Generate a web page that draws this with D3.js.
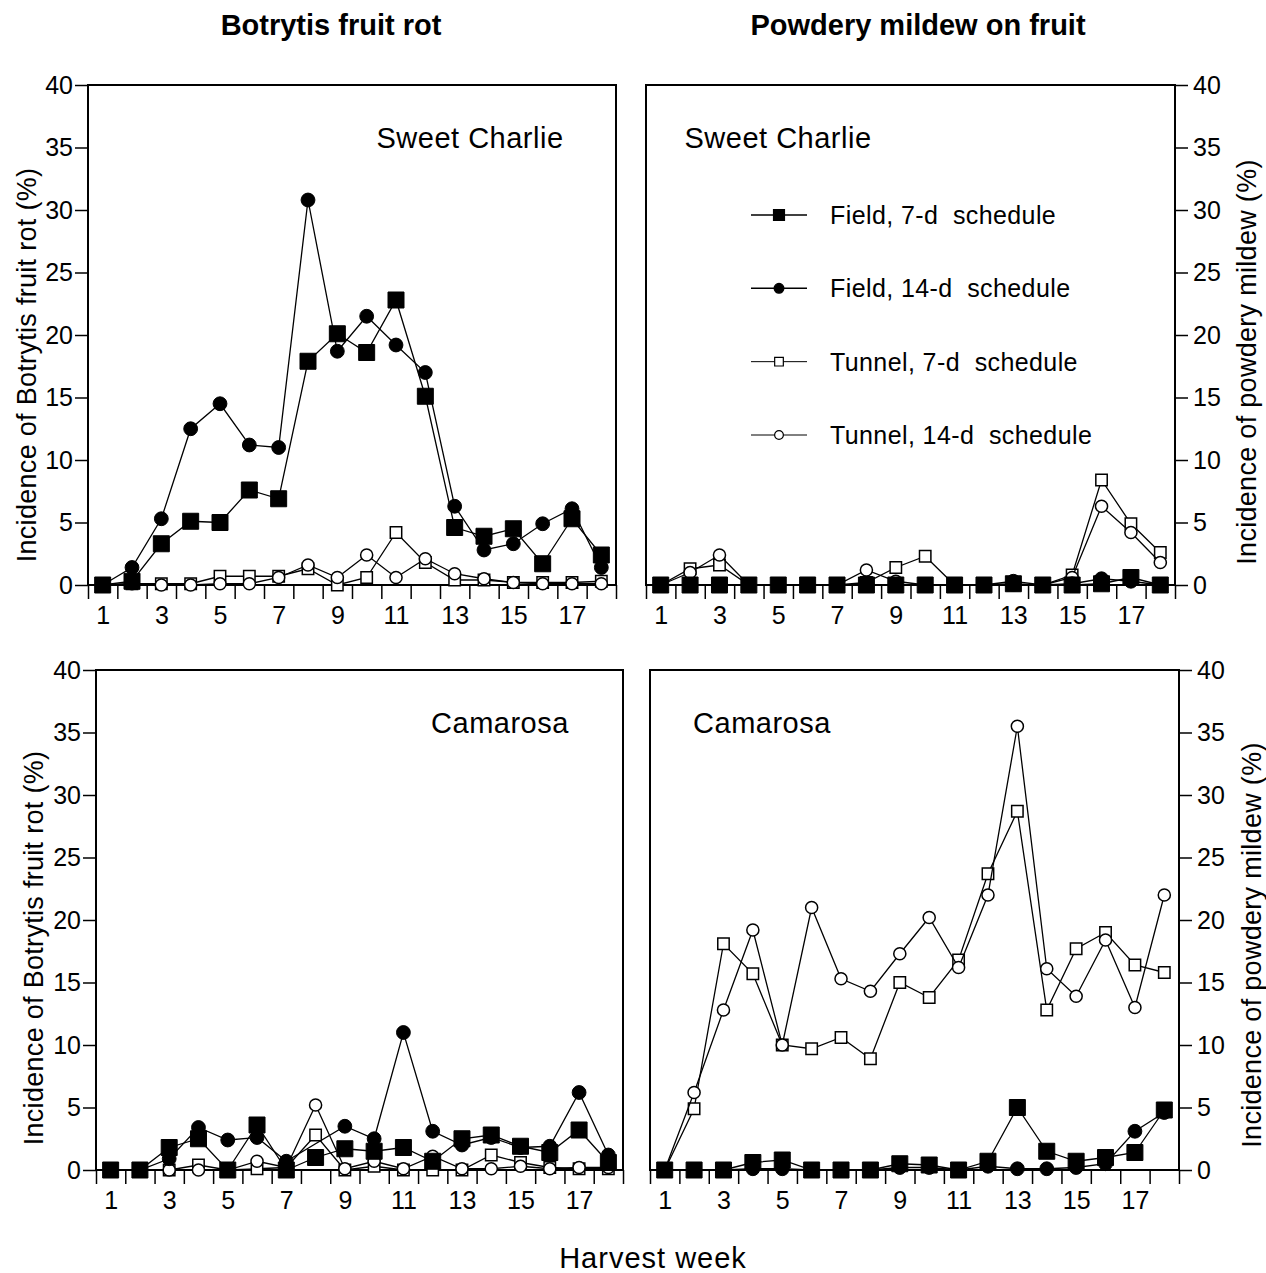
<!DOCTYPE html>
<html>
<head>
<meta charset="utf-8">
<script src="https://cdn.jsdelivr.net/npm/d3@7"></script>
<style>
  body { margin: 0; background: #fff; }
  svg text { font-family: "Liberation Sans", Arial, sans-serif; fill: #000; }
</style>
</head>
<body>
<svg id="chart"></svg>
<script>
const weeks = d3.range(1, 19);
const oddWeeks = d3.range(1, 18, 2);
const yTicks = d3.range(0, 41, 5);
const seriesNames = ["Field, 7-d  schedule", "Field, 14-d  schedule", "Tunnel, 7-d  schedule", "Tunnel, 14-d  schedule"];

// Botrytis fruit rot, Sweet Charlie
const scBotField7 = [0, 0.3, 3.3, 5.1, 5.0, 7.6, 6.9, 17.9, 20.1, 18.6, 22.8, 15.1, 4.6, 3.9, 4.5, 1.7, 5.3, 2.4];
const scBotField14 = [0, 1.4, 5.3, 12.5, 14.5, 11.2, 11.0, 30.8, 18.7, 21.5, 19.2, 17.0, 6.3, 2.8, 3.3, 4.9, 6.1, 1.4];
const scBotTunnel7 = [0, 0.1, 0.1, 0.1, 0.7, 0.7, 0.7, 1.3, 0, 0.6, 4.2, 1.8, 0.4, 0.4, 0.2, 0.2, 0.2, 0.3];
const scBotTunnel14 = [0, 0.1, 0, 0, 0.1, 0.1, 0.6, 1.6, 0.6, 2.4, 0.6, 2.1, 0.9, 0.5, 0.2, 0.1, 0.1, 0.1];

// Powdery mildew, Sweet Charlie
const scPmField7 = [0, 0, 0, 0, 0, 0, 0, 0, 0, 0, 0, 0, 0.1, 0, 0, 0.1, 0.6, 0];
const scPmField14 = [0, 0, 0, 0, 0, 0, 0, 0, 0, 0, 0, 0, 0.3, 0, 0.1, 0.5, 0.3, 0];
const scPmTunnel7 = [0, 1.3, 1.6, 0, 0, 0, 0, 0.2, 1.4, 2.3, 0, 0, 0, 0, 0.8, 8.4, 4.9, 2.6];
const scPmTunnel14 = [0, 1.0, 2.4, 0, 0, 0, 0, 1.2, 0.3, 0, 0, 0, 0, 0, 0.6, 6.3, 4.2, 1.8];

// Botrytis fruit rot, Camarosa
const camBotField7 = [0, 0, 1.8, 2.5, 0, 3.6, 0, 1.0, 1.7, 1.5, 1.8, 0.7, 2.5, 2.8, 1.9, 1.4, 3.2, 0.6];
const camBotField14 = [0, 0, 0.9, 3.4, 2.4, 2.6, 0.7, null, 3.5, 2.5, 11.0, 3.1, 2.0, 2.6, 1.8, 1.9, 6.2, 1.2];
const camBotTunnel7 = [0, 0, 0, 0.4, 0, 0.1, 0.2, 2.8, 0, 0.3, 0, 0, 0, 1.2, 0.6, 0.2, 0.1, 0.1];
const camBotTunnel14 = [0, 0, 0, 0, 0, 0.7, 0.2, 5.2, 0.1, 0.7, 0.1, 1.1, 0.1, 0.1, 0.3, 0.1, 0.2, 0.2];

// Powdery mildew, Camarosa
const camPmField7 = [0, 0, 0, 0.6, 0.8, 0, 0, 0, 0.5, 0.4, 0, 0.7, 5.0, 1.5, 0.7, 1.0, 1.4, 4.8];
const camPmField14 = [0, 0, 0, 0.1, 0.1, 0, 0, 0, 0.2, 0.2, 0, 0.3, 0.1, 0.1, 0.2, 0.5, 3.1, 4.6];
const camPmTunnel7 = [0, 4.9, 18.1, 15.7, 10.0, 9.7, 10.6, 8.9, 15.0, 13.8, 16.8, 23.7, 28.7, 12.8, 17.7, 19.0, 16.4, 15.8];
const camPmTunnel14 = [0, 6.2, 12.8, 19.2, 10.0, 21.0, 15.3, 14.3, 17.3, 20.2, 16.2, 22.0, 35.5, 16.1, 13.9, 18.4, 13.0, 22.0];

const width = 1266;
const height = 1273;

const svg = d3.select("#chart").attr("width", width).attr("height", height);

// marker styles, in series order
const styles = [
  { shape: d3.symbolSquare, size: 256, fill: "#000", sw: 1 },
  { shape: d3.symbolCircle, size: 150, fill: "#000", sw: 1 },
  { shape: d3.symbolSquare, size: 130, fill: "#fff", sw: 1.5 },
  { shape: d3.symbolCircle, size: 115, fill: "#fff", sw: 1.5 }
];

const panels = [
  { series: [scBotField7, scBotField14, scBotTunnel7, scBotTunnel14], left: 88, right: 616, top: 85, bottom: 585,
    side: "left", name: "Sweet Charlie", nx: 470, ny: 148 },
  { series: [scPmField7, scPmField14, scPmTunnel7, scPmTunnel14], left: 646, right: 1175, top: 85, bottom: 585,
    side: "right", name: "Sweet Charlie", nx: 778, ny: 148, legend: true },
  { series: [camBotField7, camBotField14, camBotTunnel7, camBotTunnel14], left: 96, right: 623, top: 670, bottom: 1170,
    side: "left", name: "Camarosa", nx: 500, ny: 733 },
  { series: [camPmField7, camPmField14, camPmTunnel7, camPmTunnel14], left: 650, right: 1179, top: 670, bottom: 1170,
    side: "right", name: "Camarosa", nx: 762, ny: 733 }
];

const drawOrder = [2, 3, 1, 0];

panels.forEach((p) => {
  const x = d3.scaleLinear().domain([0.5, 18.5]).range([p.left, p.right]);
  const y = d3.scaleLinear().domain([0, 40]).range([p.bottom, p.top]);
  const g = svg.append("g");

  // frame
  g.append("rect")
    .attr("x", p.left).attr("y", p.top)
    .attr("width", p.right - p.left).attr("height", p.bottom - p.top)
    .attr("fill", "none").attr("stroke", "#000").attr("stroke-width", 2);

  // y axis
  const yAxis = (p.side === "left" ? d3.axisLeft(y).tickPadding(2) : d3.axisRight(y).tickPadding(5))
    .tickValues(yTicks).tickSize(13);
  const ya = g.append("g")
    .attr("transform", `translate(${p.side === "left" ? p.left : p.right},0)`)
    .call(yAxis);
  ya.select(".domain").remove();
  ya.selectAll("line").attr("stroke-width", 1.5);
  ya.selectAll("text").attr("font-size", 25);

  // x axis ticks between weeks
  const xa = g.append("g").attr("transform", `translate(0,${p.bottom})`)
    .call(d3.axisBottom(x).tickValues(d3.range(0.5, 19, 1)).tickSize(14).tickFormat(""));
  xa.select(".domain").remove();
  xa.selectAll("line").attr("stroke-width", 1.5);

  const xl = g.append("g").attr("transform", `translate(0,${p.bottom})`)
    .call(d3.axisBottom(x).tickValues(oddWeeks).tickSize(0).tickPadding(21));
  xl.select(".domain").remove();
  xl.selectAll("text").attr("font-size", 25);

  // series
  drawOrder.forEach((si) => {
    const vals = p.series[si];
    const pts = weeks.map((w, i) => [w, vals[i]]).filter((d) => d[1] !== null);
    const line = d3.line().x((d) => x(d[0])).y((d) => y(d[1]));
    g.append("path").datum(pts)
      .attr("d", line).attr("fill", "none").attr("stroke", "#000").attr("stroke-width", 1.3);
    const st = styles[si];
    g.selectAll(null).data(pts).join("path")
      .attr("transform", (d) => `translate(${x(d[0])},${y(d[1])})`)
      .attr("d", d3.symbol().type(st.shape).size(st.size))
      .attr("fill", st.fill).attr("stroke", "#000").attr("stroke-width", st.sw);
  });

  // cultivar name
  g.append("text").attr("x", p.nx).attr("y", p.ny)
    .attr("text-anchor", "middle").attr("font-size", 29).attr("letter-spacing", 0.5)
    .text(p.name);

  // legend
  if (p.legend) {
    const legendY = d3.scalePoint().domain(seriesNames).range([215, 435]);
    const lsize = [120, 75, 75, 60];
    seriesNames.forEach((n, i) => {
      const ly = legendY(n);
      g.append("line").attr("x1", 751).attr("x2", 807).attr("y1", ly).attr("y2", ly)
        .attr("stroke", "#000").attr("stroke-width", i < 2 ? 1.5 : 1);
      g.append("path").attr("transform", `translate(779,${ly})`)
        .attr("d", d3.symbol().type(styles[i].shape).size(lsize[i]))
        .attr("fill", styles[i].fill).attr("stroke", "#000").attr("stroke-width", 1.2);
      g.append("text").attr("x", 830).attr("y", ly + 9).attr("font-size", 25)
        .attr("letter-spacing", 0.4).style("white-space", "pre").text(n);
    });
  }
});

// column titles
svg.append("text").attr("x", 331).attr("y", 35).attr("text-anchor", "middle")
  .attr("font-size", 29).attr("font-weight", "bold").text("Botrytis fruit rot");
svg.append("text").attr("x", 918).attr("y", 35).attr("text-anchor", "middle")
  .attr("font-size", 29).attr("font-weight", "bold").text("Powdery mildew on fruit");

// y axis titles
[[36, 365, "Incidence of Botrytis fruit rot (%)"], [43, 948, "Incidence of Botrytis fruit rot (%)"],
 [1256, 362, "Incidence of powdery mildew (%)"], [1261, 945, "Incidence of powdery mildew (%)"]]
  .forEach(([tx, ty, t]) => {
    svg.append("text").attr("transform", `translate(${tx},${ty}) rotate(-90)`)
      .attr("text-anchor", "middle").attr("font-size", 27).attr("letter-spacing", 0.3).text(t);
  });

// x axis title
svg.append("text").attr("x", 653).attr("y", 1268).attr("text-anchor", "middle")
  .attr("font-size", 29).attr("letter-spacing", 1).text("Harvest week");
</script>
</body>
</html>
